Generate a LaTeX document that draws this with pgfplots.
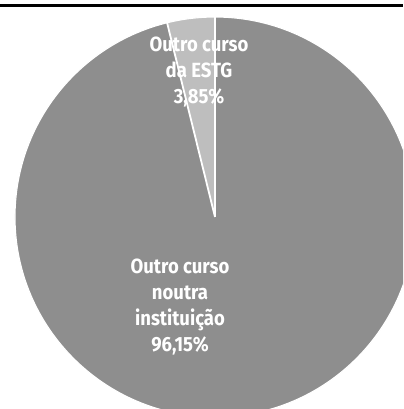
\documentclass[border=0pt]{standalone}
\usepackage{fontspec}
\setmainfont{Fira Sans}[FakeStretch=0.9]
\usepackage{pgfplots}
\usepackage{pgfplotstable}
\pgfplotsset{compat=1.18}
\definecolor{pieDark}{HTML}{8E8E8E}
\definecolor{pieLight}{HTML}{BEBEBE}
\pgfplotstableread{
value
3.85
96.15
}\piedata
\begin{document}
\begin{tikzpicture}
\begin{axis}[
  scale only axis,
  width=290.16pt, height=294.48pt,
  xmin=0, xmax=403, ymin=0, ymax=409,
  hide axis,
  clip=true,
  clip bounding box=upper bound,
]
\path[fill=white] (axis cs:0,0) rectangle (axis cs:403,409);
\pgfplotstablegetelem{0}{value}\of\piedata
\pgfmathsetmacro\va{\pgfplotsretval}
\pgfmathsetmacro\angA{90+3.6*\va}
% big slice
\fill[pieDark] (axis cs:215,192) -- ++(\angA:144pt) arc[start angle=\angA, end angle=450, radius=144pt] -- cycle;
% small slice
\fill[pieLight] (axis cs:215,192) -- ++(90:144pt) arc[start angle=90, end angle=\angA, radius=144pt] -- cycle;
\draw[white, line width=1.3pt] (axis cs:215,192) -- ++(90:146pt);
\draw[white, line width=1.3pt] (axis cs:215,192) -- ++(\angA:146pt);
\draw[white, line width=0.8pt] (axis cs:215,192) circle[radius=144pt];
\addplot[black, line width=2.2pt] coordinates {(0,403.5) (403,403.5)};
\node[text=white, align=center, font=\bfseries\fontsize{14.8}{18.7}\selectfont] at (axis cs:199,337) {Outro curso\\da ESTG\\3,85\%};
\node[text=white, align=center, font=\bfseries\fontsize{14.8}{18.7}\selectfont] at (axis cs:180,102) {Outro curso\\noutra\\instituição\\96,15\%};
\end{axis}
\end{tikzpicture}
\end{document}
